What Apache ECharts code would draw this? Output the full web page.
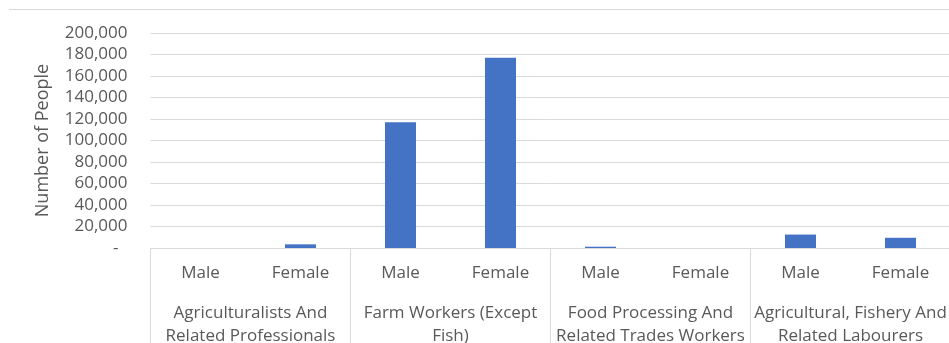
<!DOCTYPE html>
<html>
<head>
<meta charset="utf-8">
<script src="https://cdn.jsdelivr.net/npm/echarts@6/dist/echarts.min.js"></script>
<style>
  html, body { margin: 0; padding: 0; background: #ffffff; }
  #chart { width: 949px; height: 343px; }
</style>
</head>
<body>
<div id="chart"></div>
<script>
// Occupation groups (outer axis level) and sex (inner axis level)
const groups = [
  'Agriculturalists And\nRelated Professionals',
  'Farm Workers (Except\nFish)',
  'Food Processing And\nRelated Trades Workers',
  'Agricultural, Fishery And\nRelated Labourers'
];
const sexes = ['Male', 'Female'];

// Number of people per group, Male then Female
const maleValues = [0, 117000, 1200, 12500];
const femaleValues = [3400, 177000, 0, 9500];

// Y axis scale
const yMin = 0;
const yMax = 200000;
const yStep = 20000;

const innerCategories = [];
const barValues = [];
groups.forEach(function (g, i) {
  innerCategories.push(sexes[0], sexes[1]);
  barValues.push(maleValues[i], femaleValues[i]);
});

const FONT = '"Open Sans", "Noto Sans", sans-serif';
const TEXT = '#595959';
const LINE = '#d9d9d9';

const chart = echarts.init(document.getElementById('chart'), null, { renderer: 'canvas' });

chart.setOption({
  animation: false,
  backgroundColor: '#ffffff',
  textStyle: { fontFamily: FONT },
  grid: {
    left: 150.5, top: 33, width: 800, height: 215,
    containLabel: false, outerBoundsMode: 'none'
  },
  graphic: [{
    type: 'line',
    shape: { x1: 9, y1: 9.5, x2: 949, y2: 9.5 },
    style: { stroke: LINE, lineWidth: 1 },
    silent: true
  }],
  xAxis: [
    {
      type: 'category',
      position: 'bottom',
      data: innerCategories,
      axisLine: { show: true, lineStyle: { color: LINE, width: 1 } },
      axisTick: { show: false },
      axisLabel: {
        color: TEXT, fontFamily: FONT, fontSize: 17, lineHeight: 23,
        margin: 14, interval: 0
      },
      splitLine: { show: false }
    },
    {
      type: 'category',
      position: 'bottom',
      offset: 0,
      data: groups,
      axisLine: { show: false },
      axisTick: { show: true, length: 100, lineStyle: { color: LINE, width: 1 } },
      axisLabel: {
        color: TEXT, fontFamily: FONT, fontSize: 17, lineHeight: 23,
        margin: 54, interval: 0, align: 'center'
      },
      splitLine: { show: false }
    }
  ],
  yAxis: {
    type: 'value',
    min: yMin,
    max: yMax,
    interval: yStep,
    name: 'Number of People',
    nameLocation: 'middle',
    nameRotate: 90,
    nameGap: 99,
    nameTextStyle: { color: TEXT, fontFamily: FONT, fontSize: 18 },
    axisLine: { show: false },
    axisTick: { show: false },
    splitLine: { show: true, lineStyle: { color: LINE, width: 1 } },
    axisLabel: {
      color: TEXT, fontFamily: FONT, fontSize: 17, margin: 23,
      formatter: function (v) {
        if (v === 0) return '{dash|-}';
        return v.toLocaleString('en-US');
      },
      rich: {
        dash: { color: TEXT, fontFamily: FONT, fontSize: 17, padding: [0, 9, 0, 0] }
      }
    }
  },
  series: [{
    type: 'bar',
    xAxisIndex: 0,
    data: barValues,
    barWidth: 31,
    itemStyle: { color: '#4472C4' }
  }]
});
</script>
</body>
</html>
